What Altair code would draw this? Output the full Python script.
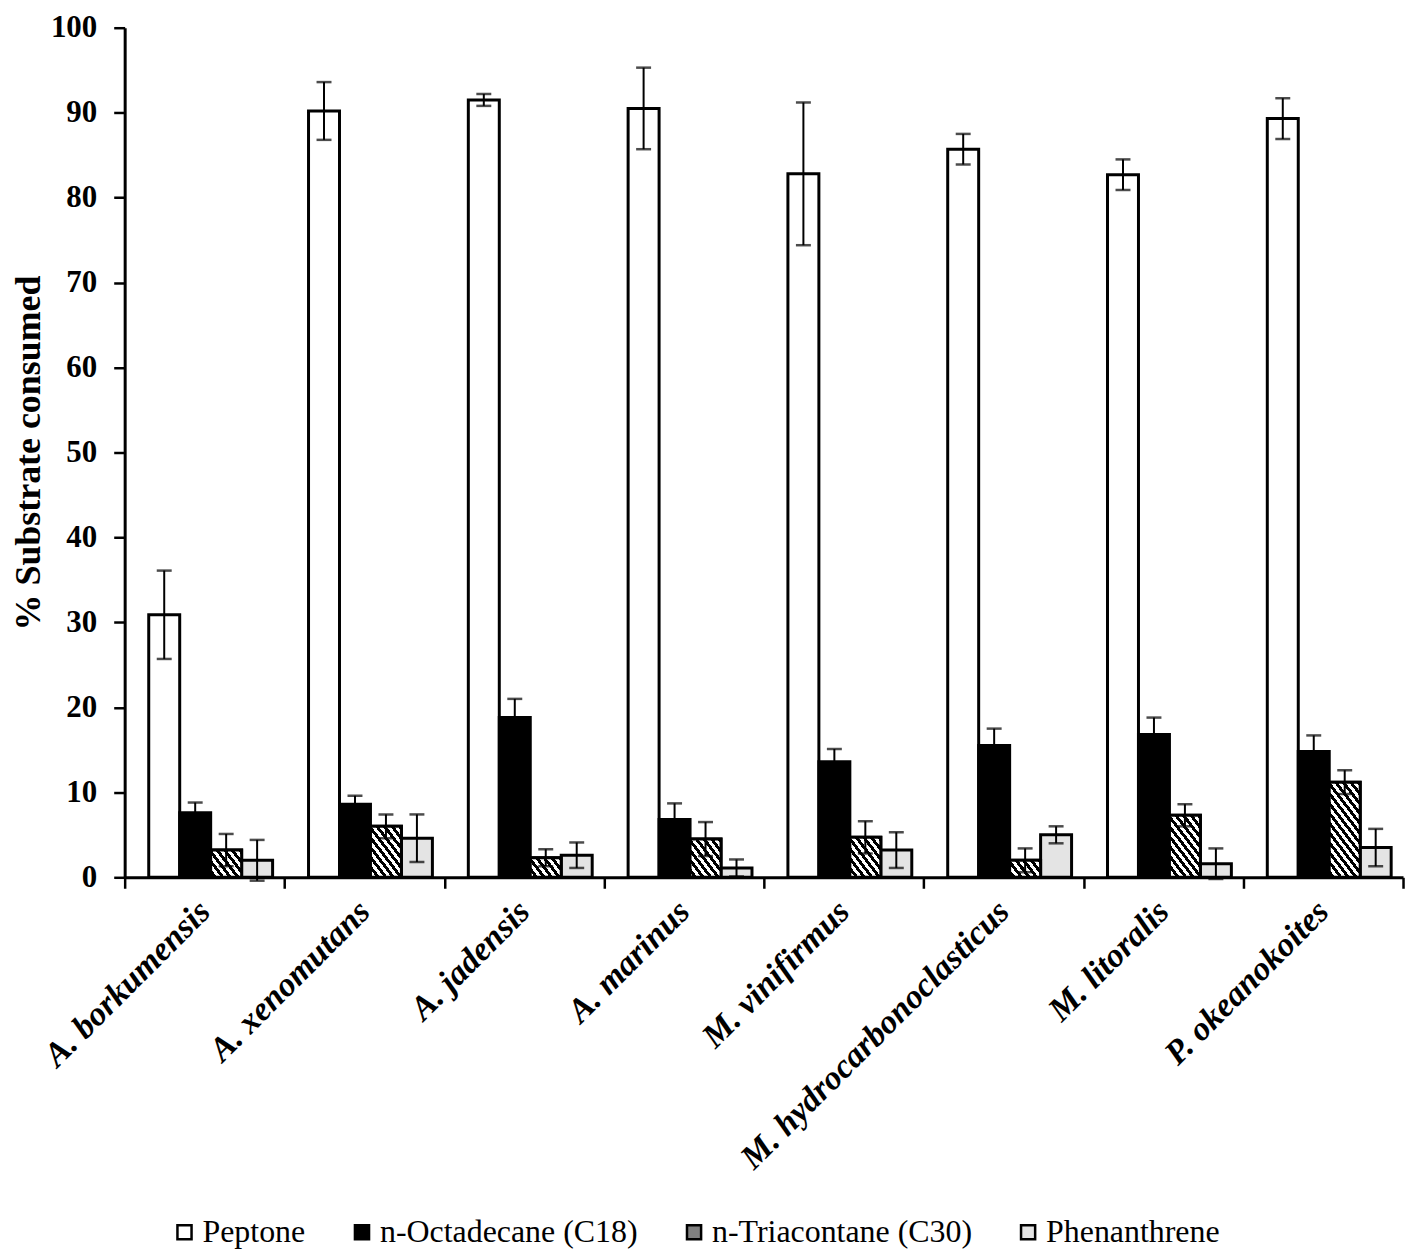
import math
import altair as alt
import pandas as pd

species = ["A. borkumensis", "A. xenomutans", "A. jadensis", "A. marinus",
           "M. vinifirmus", "M. hydrocarbonoclasticus", "M. litoralis", "P. okeanokoites"]
substrates = ["Peptone", "n-Octadecane (C18)", "n-Triacontane (C30)", "Phenanthrene"]

peptone = [30.9, 90.2, 91.5, 90.5, 82.8, 85.7, 82.7, 89.3]
peptone_err = [5.2, 3.4, 0.7, 4.8, 8.4, 1.8, 1.8, 2.4]
c18 = [7.6, 8.6, 18.8, 6.8, 13.6, 15.5, 16.8, 14.8]
c18_err = [1.2, 1.0, 2.2, 1.9, 1.5, 2.0, 2.0, 1.9]
c30 = [3.2, 6.0, 2.3, 4.5, 4.7, 2.0, 7.3, 11.2]
c30_err = [1.9, 1.4, 1.0, 2.0, 1.9, 1.4, 1.3, 1.4]
phen = [2.0, 4.6, 2.6, 1.1, 3.2, 5.0, 1.6, 3.5]
phen_err = [2.4, 2.8, 1.5, 1.0, 2.1, 1.0, 1.8, 2.2]

rows = []
for vals, errs, sub in [(peptone, peptone_err, substrates[0]), (c18, c18_err, substrates[1]),
                        (c30, c30_err, substrates[2]), (phen, phen_err, substrates[3])]:
    for sp, v, e in zip(species, vals, errs):
        rows.append({"species": sp, "substrate": sub, "value": v,
                     "lo": v - e, "hi": v + e})
df = pd.DataFrame(rows)

FONT = "Liberation Serif"
W, H = 1282, 852

# hatch style for the C30 bars (diagonal stripes via a hard-stop linear gradient)
PX_PER_UNIT = H / 100.0
BAR_W = W / 8 / (4 + 2 * 0.58)
SLOPE = 1.3
SPAN = 120.0
N_STRIPES = 20
kf = PX_PER_UNIT / (SLOPE * BAR_W)
cf = math.sqrt(1 + SLOPE ** 2) * SPAN / (SLOPE * BAR_W)
stops = []
for i in range(N_STRIPES):
    a, b, c = i / N_STRIPES, (i + 0.5) / N_STRIPES, (i + 1) / N_STRIPES
    stops += [f"{{offset:{a:.4f},color:'black'}}", f"{{offset:{b:.4f},color:'black'}}",
              f"{{offset:{b:.4f},color:'white'}}", f"{{offset:{c:.4f},color:'white'}}"]
k_expr = f"(datum.value*{kf:.5f})"
c_expr = f"({cf:.5f}/(1+{k_expr}*{k_expr}))"
grad_expr = ("{gradient:'linear',x1:1,y1:0,x2:1-" + c_expr + ",y2:" + c_expr + "*" + k_expr +
             ",stops:[" + ",".join(stops) + "]}")

x_enc = alt.X("species:N", sort=species,
              scale=alt.Scale(paddingInner=0, paddingOuter=0),
              axis=alt.Axis(title=None, labelAngle=-45, labelAlign="right", labelBaseline="middle",
                            labelFont=FONT, labelFontSize=34, labelFontWeight="bold",
                            labelFontStyle="italic", labelColor="black", labelPadding=18,
                            labelLimit=0,
                            tickBand="extent", ticks=True, tickSize=11, tickWidth=2.5,
                            tickColor="black", domainColor="black", domainWidth=3))
xo_enc = alt.XOffset("substrate:N", sort=substrates,
                     scale=alt.Scale(paddingInner=0, paddingOuter=0.58, align=0.67))
y_plain = alt.Y("value:Q")

base = alt.Chart(df)

bars = base.mark_bar(stroke="black", strokeWidth=3).encode(
    x=x_enc,
    xOffset=xo_enc,
    y=alt.Y("value:Q", scale=alt.Scale(domain=[0, 100], nice=False),
            axis=alt.Axis(title="% Substrate consumed", values=list(range(0, 101, 10)),
                          grid=False, labelFont=FONT, labelFontSize=31, labelFontWeight="bold",
                          labelColor="black", titleFont=FONT, titleFontSize=36,
                          titleFontWeight="bold", titleColor="black", titlePadding=3,
                          tickSize=11, tickWidth=2.5, tickColor="black",
                          domainColor="black", domainWidth=3, labelPadding=17)),
    fill=alt.Fill("substrate:N", sort=substrates,
                  scale=alt.Scale(domain=substrates,
                                  range=["white", "black", "#808080", "#e4e4e4"]),
                  legend=alt.Legend(title=None, orient="none", direction="horizontal",
                                    legendX=44, legendY=1192,
                                    symbolType="square", symbolSize=200,
                                    symbolStrokeColor="black", symbolStrokeWidth=2.5,
                                    labelFont=FONT, labelFontSize=32, labelColor="black",
                                    labelLimit=0,
                                    labelOffset=2, columnPadding=40)),
)

hatch = base.transform_filter(
    alt.datum.substrate == substrates[2]
).transform_calculate(
    grad=grad_expr
).mark_bar(stroke="black", strokeWidth=3).encode(
    x=alt.X("species:N", sort=species), xOffset=xo_enc, y=y_plain,
    color=alt.Color("grad:N", scale=None),
)

rules = base.mark_rule(color="black", strokeWidth=2).encode(
    x=alt.X("species:N", sort=species), xOffset=xo_enc,
    y="lo:Q", y2="hi:Q")

caps_hi = base.mark_tick(color="black", thickness=2.5, size=15, orient="horizontal").encode(
    x=alt.X("species:N", sort=species), xOffset=xo_enc, y="hi:Q")
caps_lo = base.mark_tick(color="black", thickness=2.5, size=15, orient="horizontal").encode(
    x=alt.X("species:N", sort=species), xOffset=xo_enc, y="lo:Q")

chart = alt.layer(bars, hatch, rules, caps_hi, caps_lo).properties(
    width=W, height=H,
    autosize=alt.AutoSizeParams(type="none"),
    padding={"left": 117, "top": 18, "right": 8, "bottom": 372},
    background="white",
).configure_view(stroke=None)

chart.save("out.html", embed_options={"renderer": "svg", "actions": False})
